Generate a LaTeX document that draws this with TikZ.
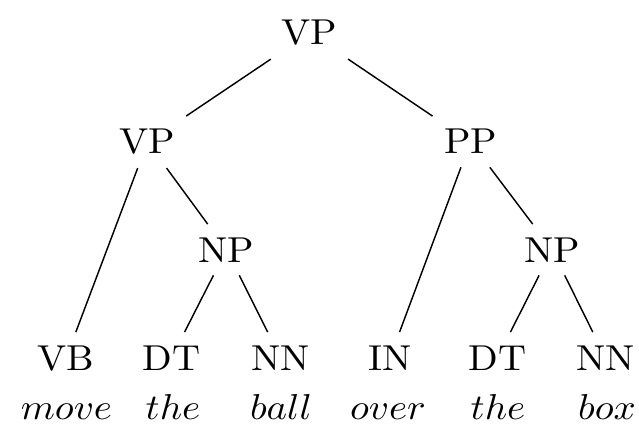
\documentclass[tikz,border=0pt]{standalone}
\usepackage{graphicx}
\newcommand\wx[1]{\scalebox{1.08}[1]{#1}}
\begin{document}
\begin{tikzpicture}[x=0.2778pt,y=-0.2778pt,
  tag/.style={anchor=base,inner sep=3.5pt},
  word/.style={anchor=base,inner sep=0pt},
  edge/.style={line width=0.4pt}]
\useasboundingbox (0,0) rectangle (639,426);
\node[tag] (root) at (309.5,45) {\wx{VP}};
\node[tag] (vp) at (147.5,154) {\wx{VP}};
\node[tag] (pp) at (470.5,154) {\wx{PP}};
\node[tag] (np1) at (226.5,262) {\wx{NP}};
\node[tag] (np2) at (552,262) {\wx{NP}};
\node[tag] (vb) at (66,370) {\wx{VB}};
\node[tag] (dt1) at (171.5,370) {\wx{DT}};
\node[tag] (nn1) at (280.5,370) {\wx{NN}};
\node[tag] (in) at (390,370) {\wx{IN}};
\node[tag] (dt2) at (497.5,370) {\wx{DT}};
\node[tag] (nn2) at (605.5,370) {\wx{NN}};
\node[word] (w1) at (66.5,419) {\wx{$move$}};
\node[word] (w2) at (173,419) {\wx{$the$}};
\node[word] (w3) at (281,419) {\wx{$ball$}};
\node[word] (w4) at (388,419) {\wx{$over$}};
\node[word] (w5) at (498,419) {\wx{$the$}};
\node[word] (w6) at (607,419) {\wx{$box$}};
\draw[edge] (root) -- (vp);
\draw[edge] (root) -- (pp);
\draw[edge] (vp) -- (vb);
\draw[edge] (vp) -- (np1);
\draw[edge] (np1) -- (dt1);
\draw[edge] (np1) -- (nn1);
\draw[edge] (pp) -- (in);
\draw[edge] (pp) -- (np2);
\draw[edge] (np2) -- (dt2);
\draw[edge] (np2) -- (nn2);
\end{tikzpicture}
\end{document}
